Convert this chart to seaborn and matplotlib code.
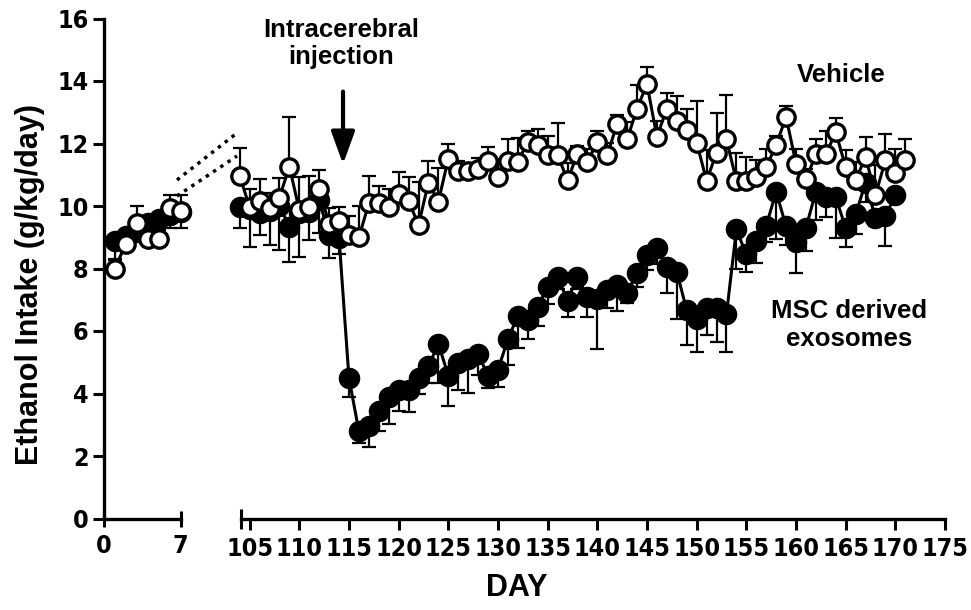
import numpy as np
import pandas as pd
import matplotlib
matplotlib.use("Agg")
import matplotlib.pyplot as plt
from matplotlib.lines import Line2D
from matplotlib.ticker import FixedLocator
import seaborn as sns

# baseline days (left segment)
days_pre = [1, 2, 3, 4, 5, 6, 7]
veh_pre = [8.0, 8.8, 9.45, 8.95, 8.95, 9.95, 9.85]
veh_pre_err = [0.3, 0.3, 0.55, 0.35, 0.4, 0.4, 0.5]
msc_pre = [8.87, 9.05, 9.2, 9.45, 9.58, 9.7, 9.8]
msc_pre_err = [0.6, 0.35, 0.35, 0.3, 0.35, 0.4, 0.5]

# treatment period (right segment)
veh_days = list(range(104, 172))
veh_vals = [10.96, 9.96, 10.17, 9.93, 10.27, 11.26, 9.87, 9.98, 10.56, 9.42,
            9.52, 9.07, 9.0, 10.09, 10.09, 9.96, 10.4, 10.17, 9.39, 10.75,
            10.14, 11.52, 11.13, 11.13, 11.2, 11.45, 10.92, 11.45, 11.42, 12.05,
            11.95, 11.63, 11.63, 10.83, 11.66, 11.42, 12.04, 11.63, 12.64, 12.13,
            13.12, 13.9, 12.21, 13.12, 12.73, 12.43, 12.03, 10.81, 11.7, 12.13,
            10.81, 10.81, 10.94, 11.24, 11.95, 12.85, 11.36, 10.85, 11.65, 11.65,
            12.36, 11.25, 10.82, 11.57, 10.35, 11.46, 11.06, 11.46]
veh_err = [0.9, 0.57, 0.7, 0.5, 0.63, 1.6, 1.07, 0.97, 0.58, 0.52,
           0.44, 0.6, 1.0, 0.86, 0.56, 0.57, 0.7, 0.76, 1.39, 0.69,
           1.06, 0.48, 0.32, 0.2, 0.35, 0.45, 0.6, 0.7, 0.75, 0.35,
           0.53, 0.6, 1.03, 0.55, 0.25, 0.4, 0.35, 0.38, 0.27, 0.57,
           0.75, 0.54, 0.5, 0.5, 0.8, 0.67, 1.34, 0.97, 1.29, 1.42,
           0.9, 0.76, 0.53, 0.6, 0.3, 0.34, 0.47, 0.32, 0.48, 0.75,
           0.46, 0.53, 0.6, 0.64, 0.96, 0.83, 0.75, 0.67]

msc_days = list(range(104, 171))
msc_vals = [9.97, 9.9, 9.77, 9.85, 10.0, 9.34, 9.77, 9.8, 10.19, 9.07,
            8.98, 4.49, 2.79, 2.95, 3.43, 3.89, 4.1, 4.12, 4.49, 4.87,
            5.59, 4.57, 4.97, 5.1, 5.26, 4.57, 4.76, 5.74, 6.49, 6.34,
            6.76, 7.42, 7.74, 6.97, 7.74, 7.08, 7.03, 7.31, 7.47, 7.23,
            7.85, 8.43, 8.65, 8.06, 7.9, 6.66, 6.37, 6.74, 6.74, 6.53,
            9.25, 8.45, 8.88, 9.36, 10.46, 9.35, 8.85, 9.3, 10.46, 10.28,
            10.28, 9.3, 9.73, 10.74, 9.62, 9.67, 10.35]
msc_err = [0.68, 1.2, 0.7, 1.1, 1.4, 1.14, 1.4, 0.9, 1.05, 0.73,
           0.5, 0.6, 0.37, 0.67, 0.64, 0.86, 0.65, 0.7, 0.5, 0.53,
           1.25, 0.96, 0.87, 1.07, 0.66, 0.4, 0.55, 0.82, 1.04, 0.6,
           0.6, 0.55, 0.4, 0.53, 0.4, 0.64, 1.6, 0.56, 0.83, 0.34,
           0.45, 0.48, 0.5, 0.85, 1.5, 1.1, 1.05, 0.88, 1.1, 1.2,
           1.26, 0.55, 0.7, 0.5, 1.5, 0.6, 0.99, 0.75, 0.9, 0.62,
           1.3, 0.6, 0.64, 0.6, 0.27, 0.95, 0.2]

y_ticks = [0, 2, 4, 6, 8, 10, 12, 14, 16]
x_ticks_pre = [0, 7]
x_ticks_post = [105, 110, 115, 120, 125, 130, 135, 140, 145, 150, 155, 160, 165, 170, 175]

sns.set_style("ticks")
plt.rcParams["font.family"] = ["Liberation Sans", "DejaVu Sans"]
plt.rcParams["font.weight"] = "bold"
for k in ("text.color", "axes.labelcolor", "xtick.color", "ytick.color", "axes.edgecolor"):
    plt.rcParams[k] = "black"

fig = plt.figure(figsize=(9.71, 6.10), dpi=100)
W, H = 971, 610
ax1 = fig.add_axes([104 / W, 1 - 518.5 / H, (180.7 - 104) / W, 500 / H])
ax2 = fig.add_axes([240.7 / W, 1 - 518.5 / H, (945 - 240.7) / W, 500 / H])

pre = pd.DataFrame({"day": days_pre, "veh": veh_pre, "msc": msc_pre})
veh = pd.DataFrame({"day": veh_days, "val": veh_vals})
msc = pd.DataFrame({"day": msc_days, "val": msc_vals})

line_kw = dict(color="black", lw=2.2, marker="o", clip_on=False, markeredgecolor="black")
filled_kw = dict(markersize=14.5, markerfacecolor="black", markeredgewidth=1)
open_kw = dict(markersize=12.5, markerfacecolor="white", markeredgewidth=2.4)
err_kw = dict(fmt="none", ecolor="black", elinewidth=1.6, capsize=5, capthick=1.6, clip_on=False)

# left segment
zeros = np.zeros(len(days_pre))
ax1.errorbar(days_pre, msc_pre, yerr=[msc_pre_err, zeros], zorder=1, **err_kw)
sns.lineplot(data=pre, x="day", y="msc", ax=ax1, zorder=2, **line_kw, **filled_kw)
ax1.errorbar(days_pre, veh_pre, yerr=[zeros, veh_pre_err], zorder=3, **err_kw)
sns.lineplot(data=pre, x="day", y="veh", ax=ax1, zorder=4, **line_kw, **open_kw)

# right segment
ax2.errorbar(msc_days, msc_vals, yerr=[msc_err, np.zeros(len(msc_days))], zorder=1, **err_kw)
sns.lineplot(data=msc, x="day", y="val", ax=ax2, zorder=2, **line_kw, **filled_kw)
ax2.errorbar(veh_days, veh_vals, yerr=[np.zeros(len(veh_days)), veh_err], zorder=3, **err_kw)
sns.lineplot(data=veh, x="day", y="val", ax=ax2, zorder=4, **line_kw, **open_kw)

for ax in (ax1, ax2):
    ax.set_ylim(0, 16)
    ax.set_xlabel("")
    ax.set_ylabel("")
    for s in ("top", "right"):
        ax.spines[s].set_visible(False)
    ax.spines["bottom"].set_linewidth(2.4)
    ax.tick_params(axis="x", which="major", length=8, width=2.2, pad=5)

ax1.set_xlim(0, 7)
ax1.set_xticks(x_ticks_pre)
ax1.set_yticks(y_ticks)
ax1.spines["left"].set_linewidth(2.4)
ax1.tick_params(axis="y", length=8, width=2.2, pad=3)
ax1.tick_params(axis="x", direction="inout", length=12)

ax2.set_xlim(104.1, 175)
ax2.set_xticks(x_ticks_post)
ax2.xaxis.set_minor_locator(FixedLocator([104.1]))
ax2.tick_params(axis="x", which="minor", direction="inout", length=14, width=2.2)
ax2.spines["left"].set_visible(False)
ax2.set_yticks([])

for ax in (ax1, ax2):
    for lab in ax.get_xticklabels() + ax.get_yticklabels():
        lab.set_fontfamily(["DejaVu Sans", "Liberation Sans"])
        lab.set_fontstretch("condensed")
        lab.set_fontsize(18)
        lab.set_fontweight("bold")

# axis titles
fig.text(0.031, 0.533, "Ethanol Intake (g/kg/day)", rotation=90, ha="center", va="center",
         fontsize=22, fontweight="bold")
fig.text(0.532, 0.036, "DAY", ha="center", va="center", fontsize=22, fontweight="bold")

# annotations
ax2.annotate("", xy=(114.4, 11.25), xytext=(114.4, 13.75),
             arrowprops=dict(arrowstyle="-|>,head_width=0.4,head_length=1.1",
                             lw=3, color="black", mutation_scale=18))
ax2.text(114.2, 15.2, "Intracerebral\ninjection", ha="center", va="center",
         fontsize=18.5, fontweight="bold", linespacing=1.2)
ax2.text(164.6, 14.2, "Vehicle", ha="center", va="center", fontsize=18.5, fontweight="bold")
ax2.text(165.3, 6.2, "MSC derived\nexosomes", ha="center", va="center",
         fontsize=18.5, fontweight="bold", linespacing=1.2)

# axis break dotted connectors
for (x0, y0, x1, y1) in [(177, 180, 237, 133), (177, 196, 237, 156)]:
    fig.add_artist(Line2D([x0 / W, x1 / W], [1 - y0 / H, 1 - y1 / H], transform=fig.transFigure,
                          color="black", lw=2.5, linestyle=(0, (1, 1.5))))

fig.savefig("out.png", dpi=100)
